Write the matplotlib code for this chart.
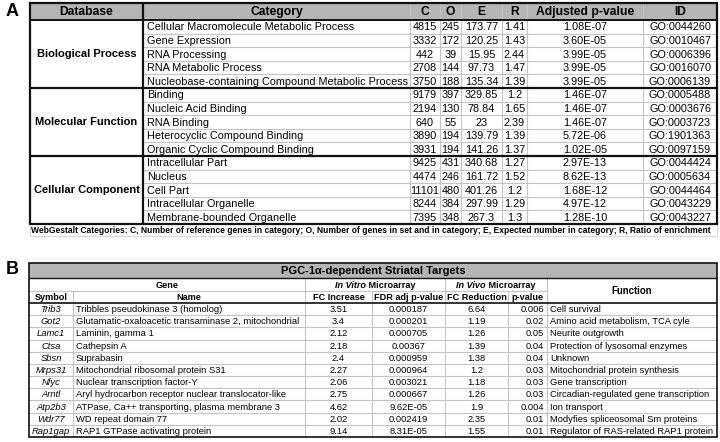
import matplotlib
matplotlib.use("Agg")
import matplotlib.pyplot as plt
from matplotlib.patches import Rectangle

plt.rcParams['font.family'] = ['Liberation Sans', 'DejaVu Sans']

# ---------------- Data: panel A ----------------
databases = ["Biological Process", "Molecular Function", "Cellular Component"]
categories = [
    "Cellular Macromolecule Metabolic Process", "Gene Expression", "RNA Processing",
    "RNA Metabolic Process", "Nucleobase-containing Compound Metabolic Process",
    "Binding", "Nucleic Acid Binding", "RNA Binding", "Heterocyclic Compound Binding",
    "Organic Cyclic Compound Binding",
    "Intracellular Part", "Nucleus", "Cell Part", "Intracellular Organelle",
    "Membrane-bounded Organelle",
]
C_vals = [4815, 3332, 442, 2708, 3750, 9179, 2194, 640, 3890, 3931, 9425, 4474, 11101, 8244, 7395]
O_vals = [245, 172, 39, 144, 188, 397, 130, 55, 194, 194, 431, 246, 480, 384, 348]
E_vals = [173.77, 120.25, 15.95, 97.73, 135.34, 329.85, 78.84, 23, 139.79, 141.26,
          340.68, 161.72, 401.26, 297.99, 267.3]
R_vals = [1.41, 1.43, 2.44, 1.47, 1.39, 1.2, 1.65, 2.39, 1.39, 1.37, 1.27, 1.52, 1.2, 1.29, 1.3]
adj_p = [1.08e-07, 3.60e-05, 3.99e-05, 3.99e-05, 3.99e-05, 1.46e-07, 1.46e-07, 1.46e-07,
         5.72e-06, 1.02e-05, 2.97e-13, 8.62e-13, 1.68e-12, 4.97e-12, 1.28e-10]
go_ids = ["GO:0044260", "GO:0010467", "GO:0006396", "GO:0016070", "GO:0006139",
          "GO:0005488", "GO:0003676", "GO:0003723", "GO:1901363", "GO:0097159",
          "GO:0044424", "GO:0005634", "GO:0044464", "GO:0043229", "GO:0043227"]
headers_a = ["Database", "Category", "C", "O", "E", "R", "Adjusted p-value", "ID"]
footnote_a = ("WebGestalt Categories: C, Number of reference genes in category; O, Number of genes "
              "in set and in category; E, Expected number in category; R, Ratio of enrichment")

# ---------------- Data: panel B ----------------
title_b = "PGC-1\u03b1-dependent Striatal Targets"
symbols = ["Trib3", "Got2", "Lamc1", "Ctsa", "Sbsn", "Mrps31", "Nfyc", "Arntl", "Atp2b3", "Wdr77", "Rap1gap"]
gene_names = [
    "Tribbles pseudokinase 3 (homolog)",
    "Glutamatic-oxaloacetic transaminase 2, mitochondrial",
    "Laminin, gamma 1",
    "Cathepsin A",
    "Suprabasin",
    "Mitochondrial ribosomal protein S31",
    "Nuclear transcription factor-Y",
    "Aryl hydrocarbon receptor nuclear translocator-like",
    "ATPase, Ca++ transporting, plasma membrane 3",
    "WD repeat domain 77",
    "RAP1 GTPase activating protein",
]
fc_increase = [3.51, 3.4, 2.12, 2.18, 2.4, 2.27, 2.06, 2.75, 4.62, 2.02, 9.14]
fdr_adj_p = [0.000187, 0.000201, 0.000705, 0.00367, 0.000959, 0.000964, 0.003021,
             0.000667, 9.62e-05, 0.002419, 8.31e-05]
fc_reduction = [6.64, 1.19, 1.26, 1.39, 1.38, 1.2, 1.18, 1.26, 1.9, 2.35, 1.55]
p_values = [0.006, 0.02, 0.05, 0.04, 0.04, 0.03, 0.03, 0.03, 0.004, 0.01, 0.01]
functions = [
    "Cell survival", "Amino acid metabolism, TCA cyle", "Neurite outgrowth",
    "Protection of lysosomal enzymes", "Unknown", "Mitochondrial protein synthesis",
    "Gene transcription", "Circadian-regulated gene transcription", "Ion transport",
    "Modyfies spliceosomal Sm proteins", "Regulator of RAS-related RAP1 protein",
]
sub_headers_b = ["Symbol", "Name", "FC Increase", "FDR adj p-value", "FC Reduction", "p-value"]

# ---------------- Layout ----------------
W, H = 720, 442
fig = plt.figure(figsize=(7.2, 4.42), dpi=100)
ax = fig.add_axes([0, 0, 1, 1])
ax.set_xlim(0, W)
ax.set_ylim(H, 0)
ax.axis('off')

GRID = '#c4c4c4'
HEAD = '#b5b5b5'
DARK = '#111111'


def hline(x0, x1, y, color=GRID, lw=0.8):
    ax.plot([x0, x1], [y, y], color=color, lw=lw, solid_capstyle='butt', zorder=3 if color == DARK else 2)


def vline(x, y0, y1, color=GRID, lw=0.8):
    ax.plot([x, x], [y0, y1], color=color, lw=lw, solid_capstyle='butt', zorder=3 if color == DARK else 2)


def fmt_num(v):
    return f"{v:g}"


def fmt_sci(v):
    return f"{v:.2E}"


# ===== Panel A =====
ax.text(6, 12, "A", fontsize=13, fontweight='bold', ha='left', va='center')

cols_a = [30, 143, 410, 440, 461, 502, 527, 643, 717]
top_a, head_bot = 3, 20
row_h_a = (224 - head_bot) / len(categories)
fs_a = 7.8

ax.add_patch(Rectangle((cols_a[0], top_a), cols_a[-1] - cols_a[0], head_bot - top_a,
                       facecolor=HEAD, edgecolor='none', zorder=1))
for i, h in enumerate(headers_a):
    xc = (cols_a[i] + cols_a[i + 1]) / 2
    ax.text(xc, (top_a + head_bot) / 2 + 0.5, h, fontsize=8.7, fontweight='bold',
            ha='center', va='center', zorder=4)

bottom_a = head_bot + row_h_a * len(categories)
for r in range(len(categories)):
    y0 = head_bot + r * row_h_a
    yc = y0 + row_h_a / 2 + 0.5
    ax.text(cols_a[1] + 4, yc, categories[r], fontsize=fs_a, ha='left', va='center', zorder=4)
    vals = [str(C_vals[r]), str(O_vals[r]), fmt_num(E_vals[r]), fmt_num(R_vals[r]),
            fmt_sci(adj_p[r]), go_ids[r]]
    for j, v in enumerate(vals):
        xc = (cols_a[2 + j] + cols_a[3 + j]) / 2
        ax.text(xc, yc, v, fontsize=fs_a, ha='center', va='center', zorder=4)
    if r > 0 and r % 5 != 0:
        hline(cols_a[1], cols_a[-1], y0)

for g, name in enumerate(databases):
    yc = head_bot + (g * 5 + 2.5) * row_h_a
    ax.text((cols_a[0] + cols_a[1]) / 2, yc, name, fontsize=8.0, fontweight='bold',
            ha='center', va='center', zorder=4)
    if g > 0:
        hline(cols_a[0], cols_a[-1], head_bot + g * 5 * row_h_a, DARK, 1.6)

for x in cols_a[2:-1]:
    vline(x, top_a, bottom_a)
vline(cols_a[1], top_a, bottom_a, DARK, 1.6)
hline(cols_a[0], cols_a[-1], head_bot, DARK, 1.4)
ax.add_patch(Rectangle((cols_a[0], top_a), cols_a[-1] - cols_a[0], bottom_a - top_a,
                       facecolor='none', edgecolor=DARK, lw=1.6, zorder=3))
# footnote
foot_bot = bottom_a + 12
ax.add_patch(Rectangle((cols_a[0], bottom_a), cols_a[-1] - cols_a[0], foot_bot - bottom_a,
                       facecolor='none', edgecolor='#d0d0d0', lw=0.6, zorder=1))
ax.text(cols_a[0] + 1, (bottom_a + foot_bot) / 2 + 0.5, footnote_a, fontsize=6.15,
        fontweight='bold', ha='left', va='center', zorder=4)

# ===== Panel B =====
ax.text(6, 270, "B", fontsize=13, fontweight='bold', ha='left', va='center')

cols_b = [29, 73, 305, 372, 445, 508, 547, 717]
top_b, t_bot, g_bot, h_bot = 263, 278, 291, 303
row_h_b = (437 - h_bot) / len(symbols)
bottom_b = h_bot + row_h_b * len(symbols)
fs_b = 6.75
fs_bh = 6.6

ax.add_patch(Rectangle((cols_b[0], top_b), cols_b[-1] - cols_b[0], t_bot - top_b,
                       facecolor=HEAD, edgecolor='none', zorder=1))
ax.text((cols_b[0] + cols_b[-1]) / 2, (top_b + t_bot) / 2 + 0.5, title_b, fontsize=8,
        fontweight='bold', ha='center', va='center', zorder=4)

# group header row
yg = (t_bot + g_bot) / 2 + 0.5
ax.text((cols_b[0] + cols_b[2]) / 2, yg, "Gene", fontsize=fs_bh, fontweight='bold',
        ha='center', va='center', zorder=4)
ax.text((cols_b[6] + cols_b[7]) / 2, (t_bot + h_bot) / 2 + 0.5, "Function", fontsize=fs_bh + 0.3,
        fontweight='bold', ha='center', va='center', zorder=4)

renderer = fig.canvas.get_renderer()


def mixed_header(x0, x1, y, ital, rest):
    t1 = ax.text(0, y, ital, fontsize=fs_bh, fontweight='bold', style='italic',
                 ha='left', va='center', zorder=4)
    t2 = ax.text(0, y, rest, fontsize=fs_bh, fontweight='bold', ha='left', va='center', zorder=4)
    inv = ax.transData.inverted()

    def width(t):
        bb = t.get_window_extent(renderer)
        p0 = inv.transform((bb.x0, bb.y0))
        p1 = inv.transform((bb.x1, bb.y0))
        return p1[0] - p0[0]
    w1, w2 = width(t1), width(t2)
    start = (x0 + x1) / 2 - (w1 + w2) / 2
    t1.set_x(start)
    t2.set_x(start + w1)


mixed_header(cols_b[2], cols_b[4], yg, "In Vitro", " Microarray")
mixed_header(cols_b[4], cols_b[6], yg, "In Vivo", " Microarray")

ys = (g_bot + h_bot) / 2 + 0.5
for i, h in enumerate(sub_headers_b):
    ax.text((cols_b[i] + cols_b[i + 1]) / 2, ys, h, fontsize=fs_bh, fontweight='bold',
            ha='center', va='center', zorder=4)

for r in range(len(symbols)):
    y0 = h_bot + r * row_h_b
    yc = y0 + row_h_b / 2 + 0.5
    ax.text((cols_b[0] + cols_b[1]) / 2, yc, symbols[r], fontsize=fs_b, style='italic',
            ha='center', va='center', zorder=4)
    ax.text(cols_b[1] + 3, yc, gene_names[r], fontsize=fs_b, ha='left', va='center', zorder=4)
    ax.text((cols_b[2] + cols_b[3]) / 2, yc, fmt_num(fc_increase[r]), fontsize=fs_b,
            ha='center', va='center', zorder=4)
    fv = fdr_adj_p[r]
    ax.text((cols_b[3] + cols_b[4]) / 2, yc, fmt_sci(fv) if fv < 1e-4 else fmt_num(fv),
            fontsize=fs_b, ha='center', va='center', zorder=4)
    ax.text((cols_b[4] + cols_b[5]) / 2, yc, fmt_num(fc_reduction[r]), fontsize=fs_b,
            ha='center', va='center', zorder=4)
    ax.text(cols_b[6] - 3, yc, fmt_num(p_values[r]), fontsize=fs_b, ha='right',
            va='center', zorder=4)
    ax.text(cols_b[6] + 3, yc, functions[r], fontsize=fs_b, ha='left', va='center', zorder=4)
    if r > 0:
        hline(cols_b[0], cols_b[-1], y0)

# header grid lines
hline(cols_b[0], cols_b[6], g_bot)
hline(cols_b[0], cols_b[-1], t_bot, DARK, 1.0)
hline(cols_b[0], cols_b[-1], h_bot, DARK, 1.2)
for i, x in enumerate(cols_b[1:-1], start=1):
    if i in (2, 4, 6):
        vline(x, t_bot, bottom_b)
    else:
        vline(x, g_bot, bottom_b)
ax.add_patch(Rectangle((cols_b[0], top_b), cols_b[-1] - cols_b[0], bottom_b - top_b,
                       facecolor='none', edgecolor=DARK, lw=1.2, zorder=3))

fig.savefig("out.png", dpi=100)
